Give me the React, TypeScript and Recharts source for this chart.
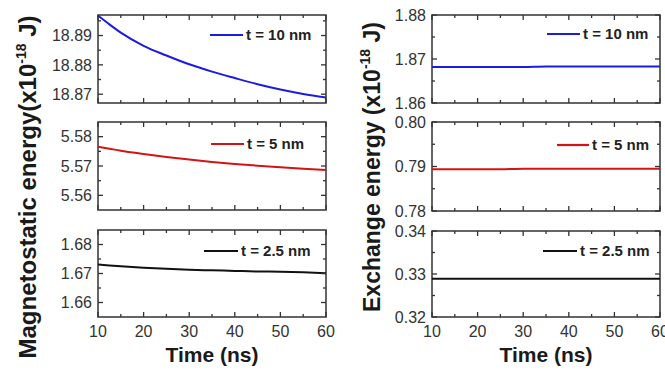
import { LineChart, Line, XAxis, YAxis, ReferenceArea } from "recharts"

// time axis (ns)
const times = [10, 12.5, 15, 20, 25, 30, 35, 40, 45, 50, 55, 60]
const timeTicks = [10, 15, 20, 25, 30, 35, 40, 45, 50, 55, 60]
const timeMajor = [10, 20, 30, 40, 50, 60]

// magnetostatic energy (x1e-18 J)
const mag10 = [18.8968, 18.8938, 18.891, 18.8865, 18.8832, 18.8802, 18.8777, 18.8755, 18.8734, 18.8716, 18.8701, 18.8689]
const mag5 = [5.5766, 5.5759, 5.5752, 5.5741, 5.5731, 5.5722, 5.5714, 5.5707, 5.5701, 5.5696, 5.5691, 5.5686]
const mag25 = [1.6731, 1.6728, 1.6725, 1.672, 1.6716, 1.6713, 1.6711, 1.6709, 1.6707, 1.6706, 1.6704, 1.6701]

// exchange energy (x1e-18 J)
const ex10 = [1.8682, 1.8682, 1.8682, 1.8682, 1.8682, 1.8682, 1.8683, 1.8683, 1.8683, 1.8683, 1.8683, 1.8683]
const ex5 = [0.7894, 0.7894, 0.7894, 0.7894, 0.7894, 0.7895, 0.7895, 0.7895, 0.7895, 0.7895, 0.7895, 0.7895]
const ex25 = [0.3289, 0.3289, 0.3289, 0.3289, 0.3289, 0.3289, 0.3289, 0.3289, 0.3289, 0.3289, 0.3289, 0.3289]

const names = ["t = 10 nm", "t = 5 nm", "t = 2.5 nm"]

const magDomains = [[18.867, 18.897], [5.555, 5.585], [1.655, 1.685]]
const magMajor = [[18.87, 18.88, 18.89], [5.56, 5.57, 5.58], [1.66, 1.67, 1.68]]
const magMinor = [[18.875, 18.885, 18.895], [5.565, 5.575], [1.665, 1.675]]

const exDomains = [[1.86, 1.88], [0.78, 0.8], [0.32, 0.34]]
const exMajor = [[1.86, 1.87, 1.88], [0.78, 0.79, 0.8], [0.32, 0.33, 0.34]]
const exMinor = [[1.865, 1.875], [0.785, 0.795], [0.325, 0.335]]

const COLORS = ["#1c1ce0", "#d41414", "#111111"]
const FRAME = "#333"
const FONT = '"Liberation Sans", Arial, Helvetica, sans-serif'

const YW = 60
const MT = 14
const MR = 24
const XH = 30

type PanelSpec = {
  values: number[]
  domain: number[]
  major: number[]
  minor: number[]
  color: string
  name: string
  left: number
  top: number
  w: number
  h: number
  showX: boolean
  legend: [number, number, number]
}

const isIn = (arr: number[], v: number) => arr.some((a) => Math.abs(a - v) < 1e-9)

function Panel({ p }: { p: PanelSpec }) {
  const data = times.map((t, i) => ({ time: t, value: p.values[i] }))
  const ticksY = [...p.major, ...p.minor].sort((a, b) => a - b)

  // ticks point inward on all four sides
  const xTick = (props: any) => {
    const { x, y, payload } = props
    const len = isIn(timeMajor, payload.value) ? 5 : 3
    const top = y - p.h
    return (
      <g>
        <line x1={x} y1={y} x2={x} y2={y - len} stroke={FRAME} strokeWidth={1.3} />
        <line x1={x} y1={top} x2={x} y2={top + len} stroke={FRAME} strokeWidth={1.3} />
        {p.showX && len === 5 && (
          <text x={x} y={y + 20} textAnchor="middle" fontSize={16} fill="#333" fontFamily={FONT}>
            {payload.value}
          </text>
        )}
      </g>
    )
  }
  const yTick = (props: any) => {
    const { x, y, payload } = props
    const major = isIn(p.major, payload.value)
    const len = major ? 5 : 3
    const right = x + p.w
    return (
      <g>
        <line x1={x} y1={y} x2={x + len} y2={y} stroke={FRAME} strokeWidth={1.3} />
        <line x1={right} y1={y} x2={right - len} y2={y} stroke={FRAME} strokeWidth={1.3} />
        {major && (
          <text x={x - 6} y={y} dy="0.36em" textAnchor="end" fontSize={16} fill="#333" fontFamily={FONT}>
            {payload.value.toFixed(2)}
          </text>
        )}
      </g>
    )
  }

  return (
    <div style={{ position: "absolute", left: p.left - YW, top: p.top - MT }}>
      <LineChart width={YW + p.w + MR} height={MT + p.h + XH} data={data} margin={{ top: MT, right: MR, bottom: 0, left: 0 }}>
        <XAxis dataKey="time" type="number" domain={[10, 60]} allowDataOverflow ticks={timeTicks} interval={0}
          height={XH} tickSize={0} tickMargin={0} tickLine={false} axisLine={false} tick={xTick} />
        <YAxis type="number" domain={p.domain} allowDataOverflow ticks={ticksY} interval={0} width={YW}
          tickSize={0} tickMargin={0} tickLine={false} axisLine={false} tick={yTick} />
        <ReferenceArea x1={10} x2={60} y1={p.domain[0]} y2={p.domain[1]} fill="none" fillOpacity={0}
          stroke={FRAME} strokeWidth={1.5} strokeOpacity={1} ifOverflow="visible" />
        <Line type="monotone" dataKey="value" stroke={p.color} strokeWidth={2} dot={false} isAnimationActive={false} />
      </LineChart>
    </div>
  )
}

const rowsLeft = [[15, 88], [122, 88], [230, 87]]
const rowsRight = [[15, 88], [122, 89], [231, 86]]
const legendLeft: [number, number, number][] = [[210, 243, 35], [211, 244, 144], [204, 238, 251]]
const legendRight: [number, number, number][] = [[547, 580, 34], [557, 589, 145], [543, 577, 251]]

export default function App() {
  const magSeries = [mag10, mag5, mag25]
  const exSeries = [ex10, ex5, ex25]
  const panels: PanelSpec[] = [
    ...magSeries.map((values, i) => ({
      values, domain: magDomains[i], major: magMajor[i], minor: magMinor[i], color: COLORS[i], name: names[i],
      left: 98, top: rowsLeft[i][0], w: 228, h: rowsLeft[i][1], showX: i === 2, legend: legendLeft[i],
    })),
    ...exSeries.map((values, i) => ({
      values, domain: exDomains[i], major: exMajor[i], minor: exMinor[i], color: COLORS[i], name: names[i],
      left: 432, top: rowsRight[i][0], w: 228, h: rowsRight[i][1], showX: i === 2, legend: legendRight[i],
    })),
  ]

  return (
    <div style={{ position: "absolute", left: 0, top: 0, width: 665, height: 371, background: "#fff", overflow: "hidden", fontFamily: FONT }}>
      {panels.map((p, i) => (
        <Panel key={i} p={p} />
      ))}
      <svg width={665} height={371} style={{ position: "absolute", left: 0, top: 0, pointerEvents: "none" }}>
        {panels.map((p, i) => (
          <g key={i}>
            <line x1={p.legend[0]} x2={p.legend[1]} y1={p.legend[2]} y2={p.legend[2]} stroke={p.color} strokeWidth={2.2} />
            <text x={p.legend[1] + 3} y={p.legend[2]} dy="0.36em" fontSize={15} fontWeight="bold" fill="#222" fontFamily={FONT}>
              {p.name}
            </text>
          </g>
        ))}
        <text transform="translate(36,187) rotate(-90)" textAnchor="middle" fontSize={24} fontWeight="bold" fill="#1a1a1a" fontFamily={FONT}>
          Magnetostatic energy(x10
          <tspan dy={-10} fontSize={14}>-18</tspan>
          <tspan dy={10}> J)</tspan>
        </text>
        <text transform="translate(380,167) rotate(-90)" textAnchor="middle" fontSize={23} fontWeight="bold" fill="#1a1a1a" fontFamily={FONT}>
          Exchange energy (x10
          <tspan dy={-10} fontSize={14}>-18</tspan>
          <tspan dy={10}> J)</tspan>
        </text>
        <text x={212} y={362} textAnchor="middle" fontSize={21} fontWeight="bold" fill="#1a1a1a" fontFamily={FONT}>
          Time (ns)
        </text>
        <text x={546} y={362} textAnchor="middle" fontSize={21} fontWeight="bold" fill="#1a1a1a" fontFamily={FONT}>
          Time (ns)
        </text>
      </svg>
    </div>
  )
}
